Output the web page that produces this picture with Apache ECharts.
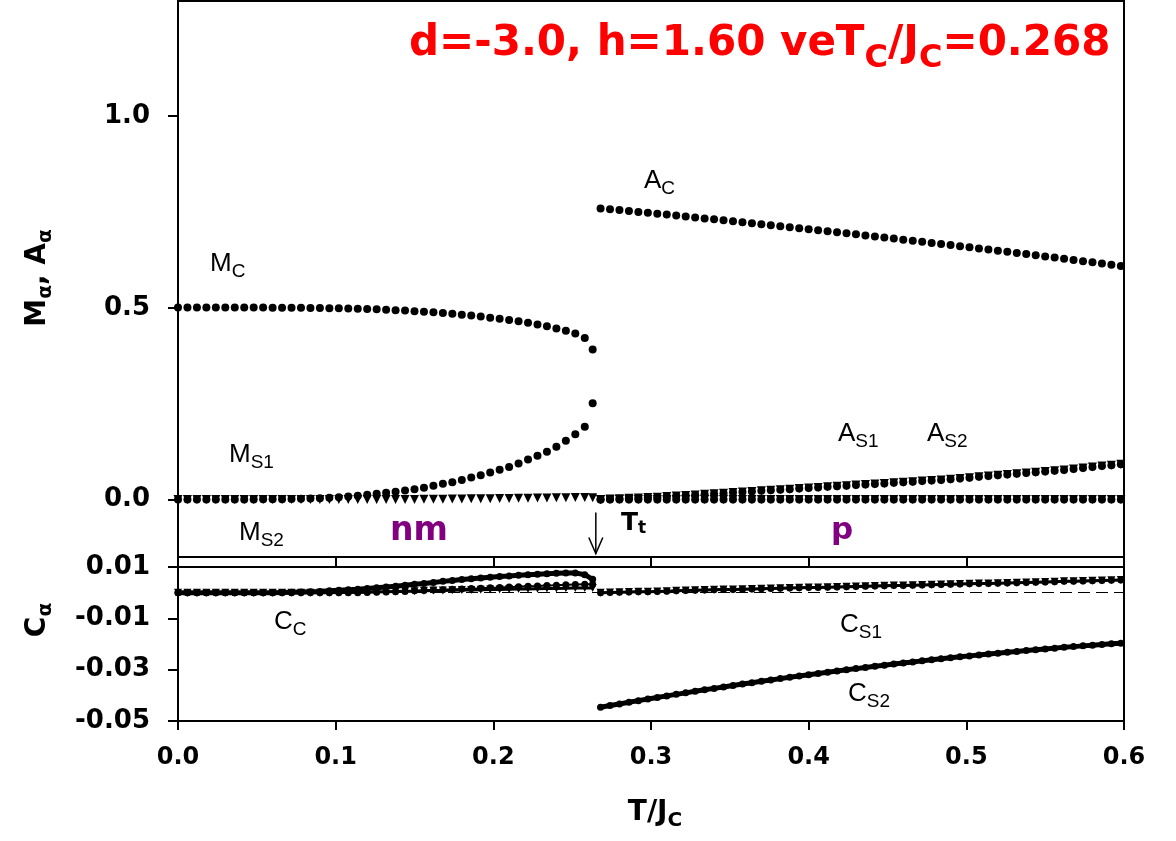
<!DOCTYPE html>
<html>
<head>
<meta charset="utf-8">
<script src="https://cdn.jsdelivr.net/npm/echarts@6/dist/echarts.min.js"></script>
<style>
  html, body { margin: 0; padding: 0; background: #fff; }
  #chart { width: 1176px; height: 841px; }
</style>
</head>
<body>
<div id="chart"></div>
<script>
// Temperature grids: ordered (nm) phase and paramagnetic (p) phase
const tNm = [0, 0.006, 0.012, 0.018, 0.024, 0.030, 0.036, 0.042, 0.048, 0.054,
  0.060, 0.066, 0.072, 0.078, 0.084, 0.090, 0.096, 0.102, 0.108, 0.114,
  0.120, 0.126, 0.132, 0.138, 0.144, 0.150, 0.156, 0.162, 0.168, 0.174,
  0.180, 0.186, 0.192, 0.198, 0.204, 0.210, 0.216, 0.222, 0.228, 0.234,
  0.240, 0.246, 0.252, 0.258, 0.263];
const tP = [0.268, 0.274, 0.280, 0.286, 0.292, 0.298, 0.304, 0.310, 0.316, 0.322,
  0.328, 0.334, 0.340, 0.346, 0.352, 0.358, 0.364, 0.370, 0.376, 0.382,
  0.388, 0.394, 0.400, 0.406, 0.412, 0.418, 0.424, 0.430, 0.436, 0.442,
  0.448, 0.454, 0.460, 0.466, 0.472, 0.478, 0.484, 0.490, 0.496, 0.502,
  0.508, 0.514, 0.520, 0.526, 0.532, 0.538, 0.544, 0.550, 0.556, 0.562,
  0.568, 0.574, 0.580, 0.586, 0.592, 0.598];

// Magnetizations in the nm phase
const mC = [0.501, 0.501, 0.501, 0.501, 0.501, 0.501, 0.501, 0.501, 0.5005, 0.5005,
  0.5003, 0.5001, 0.4999, 0.4997, 0.4995, 0.4992, 0.4988, 0.4984, 0.4979, 0.4973,
  0.4966, 0.4958, 0.4949, 0.4938, 0.4926, 0.4912, 0.4897, 0.4880, 0.4862, 0.4842,
  0.4820, 0.4796, 0.4770, 0.4742, 0.4712, 0.4680, 0.4645, 0.4606, 0.4563, 0.4515,
  0.4462, 0.4402, 0.4330, 0.4210, 0.3910];
const mS1Nm = [0, 0, 0, 0, 0.0001, 0.0001, 0.0001, 0.0002, 0.0002, 0.0003,
  0.0005, 0.0008, 0.0012, 0.0018, 0.0025, 0.0035, 0.0045, 0.0060, 0.0080, 0.0100,
  0.0125, 0.0150, 0.0175, 0.0200, 0.0235, 0.0270, 0.0305, 0.0357, 0.0410, 0.0450,
  0.0510, 0.0574, 0.0635, 0.0705, 0.0775, 0.0850, 0.0940, 0.1044, 0.1140, 0.1245,
  0.1376, 0.1530, 0.1700, 0.1900, 0.2510];
const mS2Nm = [0, 0, 0, 0, 0, 0, 0, 0, 0, 0,
  0, 0, 0, 0, 0, 0, 0, 0, 0, 0,
  0, 0, 0, 0, 0, 0.0002, 0.0004, 0.0006, 0.0008, 0.0010,
  0.0013, 0.0016, 0.0019, 0.0022, 0.0025, 0.0028, 0.0031, 0.0034, 0.0037, 0.0040,
  0.0043, 0.0046, 0.0049, 0.0050, 0.0045];

// p phase: magnetizations vanish, quadrupolar moments remain
const mSP = [0, 0, 0, 0, 0, 0, 0, 0, 0, 0,
  0, 0, 0, 0, 0, 0, 0, 0, 0, 0,
  0, 0, 0, 0, 0, 0, 0, 0, 0, 0,
  0, 0, 0, 0, 0, 0, 0, 0, 0, 0,
  0, 0, 0, 0, 0, 0, 0, 0, 0, 0,
  0, 0, 0, 0, 0, 0];
const aC = [0.7590, 0.7571, 0.7547, 0.7524, 0.7500, 0.7477, 0.7453, 0.7429, 0.7404, 0.7380,
  0.7355, 0.7331, 0.7306, 0.7281, 0.7256, 0.7230, 0.7205, 0.7179, 0.7153, 0.7127,
  0.7101, 0.7075, 0.7049, 0.7022, 0.6995, 0.6969, 0.6942, 0.6914, 0.6887, 0.6860,
  0.6832, 0.6804, 0.6776, 0.6748, 0.6720, 0.6691, 0.6663, 0.6634, 0.6605, 0.6576,
  0.6547, 0.6518, 0.6488, 0.6459, 0.6429, 0.6399, 0.6369, 0.6338, 0.6308, 0.6277,
  0.6247, 0.6216, 0.6185, 0.6153, 0.6122, 0.6091];
const aS = [0, 0.0010, 0.0020, 0.0030, 0.0040, 0.0050, 0.0060, 0.0075, 0.0090, 0.0105,
  0.0120, 0.0135, 0.0150, 0.0165, 0.0180, 0.0195, 0.0210, 0.0225, 0.0240, 0.0255,
  0.0270, 0.0285, 0.0300, 0.0315, 0.0330, 0.0345, 0.0360, 0.0375, 0.0390, 0.0405,
  0.0420, 0.0435, 0.0450, 0.0465, 0.0480, 0.0495, 0.0510, 0.0530, 0.0550, 0.0570,
  0.0590, 0.0610, 0.0630, 0.0650, 0.0670, 0.0690, 0.0710, 0.0730, 0.0750, 0.0770,
  0.0795, 0.0820, 0.0845, 0.0870, 0.0895, 0.0920];

// Correlations C_alpha
const cCNm = [0, 0, 0, 0, 0, 0, 0, 0, 0, 0,
  0, 0.0001, 0.0002, 0.0003, 0.0004, 0.0005, 0.0007, 0.0009, 0.0011, 0.0013,
  0.0016, 0.0019, 0.0022, 0.0025, 0.0029, 0.0033, 0.0036, 0.0040, 0.0044, 0.0047,
  0.0051, 0.0054, 0.0057, 0.0060, 0.0063, 0.0065, 0.0068, 0.0070, 0.0072, 0.0074,
  0.0076, 0.0077, 0.0077, 0.0070, 0.0052];
const cS1Nm = [0, 0, 0, 0, 0, 0, 0, 0, 0, 0,
  0, 0, 0, 0, 0, 0, 0, 0.0001, 0.0002, 0.0002,
  0.0003, 0.0004, 0.0004, 0.0005, 0.0006, 0.0006, 0.0007, 0.0008, 0.0008, 0.0009,
  0.0010, 0.0010, 0.0011, 0.0012, 0.0012, 0.0013, 0.0014, 0.0014, 0.0015, 0.0016,
  0.0016, 0.0017, 0.0018, 0.0018, 0.0018];
const cS2Nm = [0, 0, 0, 0, 0, 0, 0, 0, 0, 0,
  0, 0, 0, 0, 0, 0, 0, 0, 0, 0,
  0.0001, 0.0002, 0.0003, 0.0004, 0.0005, 0.0007, 0.0008, 0.0010, 0.0011, 0.0013,
  0.0014, 0.0016, 0.0017, 0.0019, 0.0020, 0.0022, 0.0023, 0.0025, 0.0026, 0.0028,
  0.0029, 0.0031, 0.0032, 0.0033, 0.0033];
const cSmallP = [0, 0.0001, 0.0002, 0.0003, 0.0004, 0.0004, 0.0005, 0.0006, 0.0007, 0.0008,
  0.0009, 0.0010, 0.0011, 0.0012, 0.0012, 0.0013, 0.0014, 0.0015, 0.0016, 0.0017,
  0.0018, 0.0019, 0.0020, 0.0020, 0.0021, 0.0022, 0.0023, 0.0024, 0.0025, 0.0026,
  0.0027, 0.0028, 0.0028, 0.0029, 0.0030, 0.0031, 0.0032, 0.0033, 0.0034, 0.0035,
  0.0036, 0.0036, 0.0037, 0.0038, 0.0039, 0.0040, 0.0041, 0.0042, 0.0043, 0.0044,
  0.0044, 0.0045, 0.0046, 0.0047, 0.0048, 0.0049];
const cS2P = [-0.04465, -0.04399, -0.04335, -0.04271, -0.04207, -0.04145, -0.04083, -0.04022, -0.03962, -0.03903,
  -0.03844, -0.03786, -0.03729, -0.03672, -0.03616, -0.03561, -0.03507, -0.03454, -0.03401, -0.03349,
  -0.03297, -0.03247, -0.03197, -0.03148, -0.03099, -0.03052, -0.03005, -0.02959, -0.02914, -0.02869,
  -0.02825, -0.02782, -0.02739, -0.02698, -0.02657, -0.02616, -0.02577, -0.02538, -0.02500, -0.02463,
  -0.02426, -0.02391, -0.02356, -0.02321, -0.02288, -0.02255, -0.02223, -0.02191, -0.02161, -0.02131,
  -0.02102, -0.02073, -0.02046, -0.02019, -0.01993, -0.01967];

// Tick values
const xTicks = [0, 0.1, 0.2, 0.3, 0.4, 0.5, 0.6];
const yTopTicks = [0, 0.5, 1.0];
const yBottomTicks = [-0.05, -0.03, -0.01, 0.01];
const tTransition = 0.265;

const pairs = (ts, vs) => ts.map((t, i) => [t, vs[i]]);

const BLACK = '#000';
const TICK_FONT = 'DejaVu Sans';

function dots(name, data, grid, shape) {
  const tri = shape === 'tri';
  return {
    name, type: 'scatter', xAxisIndex: grid, yAxisIndex: grid, data,
    symbol: tri ? 'triangle' : 'circle',
    symbolSize: tri ? 9 : 8,
    symbolRotate: tri ? 180 : 0,
    itemStyle: { color: BLACK, opacity: 1 },
    silent: true
  };
}
function thickLine(name, data, shape, extra) {
  const tri = shape === 'tri';
  return Object.assign({
    name, type: 'line', xAxisIndex: 1, yAxisIndex: 1, data,
    showSymbol: true,
    symbol: tri ? 'triangle' : 'circle',
    symbolSize: tri ? 8 : 7,
    symbolRotate: tri ? 180 : 0,
    itemStyle: { color: BLACK, opacity: 1 },
    lineStyle: { color: BLACK, width: tri ? 3 : 5 },
    silent: true
  }, extra || {});
}

function axisX(grid, showLabels) {
  return {
    type: 'value', gridIndex: grid, min: 0, max: 0.6, interval: 0.1,
    axisLine: { show: true, onZero: false, lineStyle: { color: BLACK, width: 2 } },
    axisTick: { show: true, inside: false, length: 9, lineStyle: { color: BLACK, width: 2 },
      customValues: xTicks },
    axisLabel: { show: showLabels, customValues: xTicks, margin: 25,
      formatter: v => v.toFixed(1),
      color: BLACK, fontFamily: TICK_FONT, fontWeight: 'bold', fontSize: 24 },
    splitLine: { show: false }
  };
}
function axisY(grid, min, max, ticks, digits) {
  return {
    type: 'value', gridIndex: grid, min, max,
    axisLine: { show: true, onZero: false, lineStyle: { color: BLACK, width: 2 } },
    axisTick: { show: true, inside: false, length: 10, lineStyle: { color: BLACK, width: 2 },
      customValues: ticks },
    axisLabel: { show: true, customValues: ticks, margin: 28,
      formatter: v => v.toFixed(digits),
      color: BLACK, fontFamily: TICK_FONT, fontWeight: 'bold', fontSize: 26 },
    splitLine: { show: false }
  };
}

// Text with a lowered subscript, built from rich text fragments
function subText(x, y, parts, o) {
  o = Object.assign({ size: 26, subSize: 19, weight: 'normal', color: BLACK,
    family: 'Liberation Sans', drop: 15, align: 'left', rotation: 0 }, o || {});
  let text = '';
  parts.forEach((p, i) => { text += `{${i % 2 ? 's' : 'm'}|${p}}`; });
  return {
    type: 'text', x, y, rotation: o.rotation, silent: true,
    style: {
      text, align: o.align, verticalAlign: 'middle',
      rich: {
        m: { fontSize: o.size, fontWeight: o.weight, fontFamily: o.family, fill: o.color },
        s: { fontSize: o.subSize, fontWeight: o.weight, fontFamily: o.family, fill: o.color,
             padding: [o.drop, 0, 0, 0] }
      }
    }
  };
}

const chart = echarts.init(document.getElementById('chart'));

const option = {
  animation: false,
  backgroundColor: '#fff',
  grid: [
    { left: 178, width: 946, top: 1, height: 556, show: true, borderColor: BLACK, borderWidth: 2, backgroundColor: 'transparent' },
    { left: 178, width: 946, top: 567, height: 154, show: true, borderColor: BLACK, borderWidth: 2, backgroundColor: 'transparent' }
  ],
  xAxis: [axisX(0, false), axisX(1, true)],
  yAxis: [axisY(0, -0.15, 1.3, yTopTicks, 1), axisY(1, -0.05, 0.01, yBottomTicks, 2)],
  series: [
    // upper panel: M and A
    dots('M_S2', pairs(tNm, mS2Nm), 0, 'tri'),
    dots('M_S2 (p)', pairs(tP, mSP), 0, 'tri'),
    dots('A_S2', pairs(tP, aS), 0, 'tri'),
    dots('M_S1', pairs(tNm, mS1Nm), 0, 'dot'),
    dots('M_S1 (p)', pairs(tP, mSP), 0, 'dot'),
    dots('A_S1', pairs(tP, aS), 0, 'dot'),
    dots('M_C', pairs(tNm, mC), 0, 'dot'),
    dots('A_C', pairs(tP, aC), 0, 'dot'),
    // lower panel: C
    thickLine('C_S1', pairs(tNm, cS1Nm), 'tri', {
      markLine: {
        silent: true, symbol: 'none', label: { show: false },
        lineStyle: { color: BLACK, width: 1, type: [12, 6] },
        data: [{ yAxis: 0 }]
      }
    }),
    thickLine('C_S1 (p)', pairs(tP, cSmallP), 'tri'),
    thickLine('C_S2', pairs(tNm, cS2Nm), 'dot', { lineStyle: { color: BLACK, width: 2 } }),
    thickLine('C_C', pairs(tNm, cCNm), 'dot'),
    thickLine('C_C (p)', pairs(tP, cSmallP), 'dot', { lineStyle: { color: BLACK, width: 2 } }),
    thickLine('C_S2 (p)', pairs(tP, cS2P), 'dot')
  ]
};
chart.setOption(option);

// Annotations: labels, title, axis names and the transition arrow
const ax = chart.convertToPixel({ xAxisIndex: 0 }, tTransition);
const ayTop = chart.convertToPixel({ yAxisIndex: 0 }, -0.034);
const ayBot = chart.convertToPixel({ yAxisIndex: 0 }, -0.141);
const RED = '#ff0000';
const PURPLE = '#800080';

chart.setOption({
  graphic: [
    subText(409, 44, ['d=-3.0, h=1.60 veT', 'C', '/J', 'C', '=0.268'],
      { size: 42, subSize: 32, weight: 'bold', color: RED, family: 'DejaVu Sans', drop: 30 }),
    subText(210, 264, ['M', 'C']),
    subText(644, 181, ['A', 'C']),
    subText(229, 455, ['M', 'S1']),
    subText(239, 533, ['M', 'S2']),
    subText(838, 434, ['A', 'S1']),
    subText(927, 434, ['A', 'S2']),
    subText(274, 622, ['C', 'C']),
    subText(840, 625, ['C', 'S1']),
    subText(848, 694, ['C', 'S2']),
    subText(621, 523, ['T', 't'], { weight: 'bold', family: 'DejaVu Sans', size: 25, subSize: 17, drop: 12 }),
    { type: 'text', x: 390, y: 531, silent: true,
      style: { text: 'nm', fill: PURPLE, fontFamily: 'DejaVu Sans', fontWeight: 'bold', fontSize: 33,
               align: 'left', verticalAlign: 'middle' } },
    { type: 'text', x: 831, y: 531, silent: true,
      style: { text: 'p', fill: PURPLE, fontFamily: 'DejaVu Sans', fontWeight: 'bold', fontSize: 31,
               align: 'left', verticalAlign: 'middle' } },
    // axis titles
    subText(655, 813, ['T/J', 'C'], { weight: 'bold', family: 'DejaVu Sans', size: 28, subSize: 20, drop: 15, align: 'center' }),
    subText(38, 278, ['M', 'α', ', A', 'α'], { weight: 'bold', family: 'DejaVu Sans', size: 28, subSize: 20, drop: 15, align: 'center', rotation: Math.PI / 2 }),
    subText(38, 620, ['C', 'α'], { weight: 'bold', family: 'DejaVu Sans', size: 28, subSize: 20, drop: 15, align: 'center', rotation: Math.PI / 2 }),
    // transition arrow
    { type: 'line', silent: true, shape: { x1: ax, y1: ayTop, x2: ax, y2: ayBot },
      style: { stroke: BLACK, lineWidth: 1.5 } },
    { type: 'polyline', silent: true,
      shape: { points: [[ax - 7, ayBot - 16], [ax, ayBot], [ax + 7, ayBot - 16]] },
      style: { stroke: BLACK, lineWidth: 1.5, fill: null } }
  ]
});
</script>
</body>
</html>
